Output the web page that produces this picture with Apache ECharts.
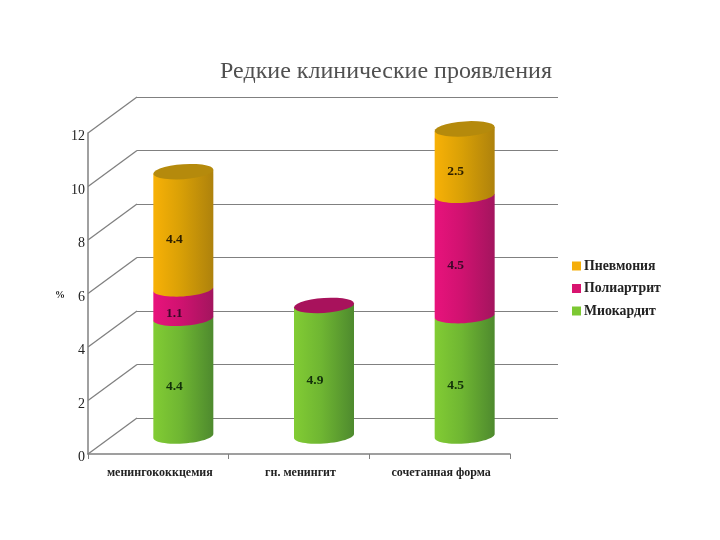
<!DOCTYPE html>
<html>
<head>
<meta charset="utf-8">
<style>html,body{margin:0;padding:0;background:#fff}#c{width:720px;height:540px}</style>
<script src="https://cdn.jsdelivr.net/npm/echarts@6/dist/echarts.min.js"></script>
</head>
<body>
<div id="c"></div>
<script>
const categories = ['менингококкцемия', 'гн. менингит', 'сочетанная форма'];
const myocarditis = [4.4, 4.9, 4.5];
const polyarthritis = [1.1, 0, 4.5];
const pneumonia = [4.4, null, 2.5];
const yTicks = [0, 2, 4, 6, 8, 10, 12];
const names = ['Миокардит', 'Полиартрит', 'Пневмония'];
const colors = [
  { legend: '#7CC832', light: '#82CC34', mid: '#6FB632', dark: '#4E8A2E', cap: '#5D9A2E', text: '#12300a' },
  { legend: '#D8146F', light: '#E8137C', mid: '#D01270', dark: '#A3155E', cap: '#A8125C', text: '#3a0a28' },
  { legend: '#F5AE0A', light: '#F8B106', mid: '#D9A006', dark: '#AE820C', cap: '#B58A0C', text: '#2e2000' }
];
const layers = [myocarditis, polyarthritis, pneumonia];
const DX = 49, DY = -36, RX = 30, RY = 7.5, TILT = 2;
const serif = '"Liberation Serif", serif';

function segData(s) {
  return categories.map((c, i) => {
    let base = 0;
    for (let k = 0; k < s; k++) base += layers[k][i] || 0;
    const v = layers[s][i];
    let isTop = v !== null;
    for (let k = s + 1; k < layers.length; k++) if (layers[k][i] !== null) isTop = false;
    return v === null ? [i, 0, 0, 0, 0] : [i, base, base + v, v, isTop ? 1 : 0];
  });
}
function ellipsePts(cx, cy, from, to) {
  const p = [], n = 28;
  for (let j = 0; j <= n; j++) {
    const t = from + (to - from) * j / n;
    p.push([cx + RX * Math.cos(t), cy + RY * Math.sin(t) - TILT * Math.cos(t)]);
  }
  return p;
}
function cylinderSeries(s) {
  const col = colors[s];
  return {
    type: 'custom', name: names[s], xAxisIndex: 0, yAxisIndex: 0, z: 5 + s,
    itemStyle: { color: col.legend },
    encode: { x: 0, y: 2 },
    data: segData(s),
    renderItem(params, api) {
      const v = api.value(3), isTop = api.value(4);
      if (!v && !isTop) return { type: 'group', children: [] };
      const a = api.coord([api.value(0), api.value(1)]);
      const b = api.coord([api.value(0), api.value(2)]);
      const cx = a[0] + DX / 2 + 0.5, y0 = a[1] + DY / 2, y1 = b[1] + DY / 2 + 0.5;
      const children = [];
      if (v) {
        const poly = ellipsePts(cx, y0, 0, Math.PI).concat([[cx - RX, y1 + TILT], [cx + RX, y1 - TILT]]);
        children.push({
          type: 'polygon', shape: { points: poly },
          style: {
            fill: new echarts.graphic.LinearGradient(0, 0, 1, 0, [
              { offset: 0, color: col.light }, { offset: 0.45, color: col.mid }, { offset: 1, color: col.dark }
            ])
          }
        });
      }
      if (isTop) {
        children.push({
          type: 'polygon', shape: { points: ellipsePts(cx, y1, 0, Math.PI * 2) },
          style: { fill: col.cap }
        });
      }
      if (v) {
        children.push({
          type: 'text', z2: 10,
          style: {
            text: v.toFixed(1), x: cx - 9, y: (y0 + y1) / 2 + 9.5,
            align: 'center', verticalAlign: 'middle',
            font: 'bold 13.5px ' + serif, fill: col.text
          }
        });
      }
      return { type: 'group', children };
    }
  };
}

const chart = echarts.init(document.getElementById('c'), null, { renderer: 'canvas' });
chart.setOption({
  animation: false,
  backgroundColor: '#fff',
  title: {
    text: 'Редкие клинические проявления', left: 381, top: 55, textAlign: 'center',
    textStyle: { fontFamily: serif, fontSize: 24, fontWeight: 'normal', color: '#505050' }
  },
  legend: {
    data: ['Пневмония', 'Полиартрит', 'Миокардит'],
    orient: 'vertical', left: 567, top: 254, itemWidth: 9, itemHeight: 9, itemGap: 8.5,
    icon: 'rect',
    textStyle: { fontFamily: serif, fontSize: 13.8, fontWeight: 'bold', color: '#222', padding: [0, 0, 0, -2] }
  },
  grid: [
    { left: 88, top: 133, width: 422, height: 321 },
    { left: 137, top: 97, width: 421, height: 321 }
  ],
  xAxis: [
    {
      type: 'category', gridIndex: 0, data: categories,
      axisLine: { lineStyle: { color: '#808080', width: 1.5 } },
      axisTick: { show: true, length: 5, alignWithLabel: false, lineStyle: { color: '#808080' } },
      axisLabel: { margin: 13, fontFamily: serif, fontSize: 12, fontWeight: 'bold', color: '#222', interval: 0, padding: [0, 0, 0, 3] }
    },
    { type: 'category', gridIndex: 1, data: categories, show: false }
  ],
  yAxis: [
    {
      type: 'value', gridIndex: 0, min: 0, max: 12, interval: 2,
      name: '%', nameLocation: 'middle', nameRotate: 0, nameGap: 21,
      nameTextStyle: { fontFamily: serif, fontSize: 10, fontWeight: 'bold', color: '#222', verticalAlign: 'top', padding: [-3, 0, 0, 0] },
      axisLine: { show: true, lineStyle: { color: '#808080', width: 1.5 } },
      axisTick: { show: false }, splitLine: { show: false },
      axisLabel: { margin: 3, fontFamily: serif, fontSize: 14, color: '#222', verticalAlign: 'top', padding: [-3.5, 0, 0, 0] }
    },
    {
      type: 'value', gridIndex: 1, min: 0, max: 12, interval: 2,
      axisLine: { show: false }, axisTick: { show: false }, axisLabel: { show: false },
      splitLine: { show: true, lineStyle: { color: '#808080', width: 1.2 } }
    }
  ],
  series: [
    {
      type: 'custom', name: 'walls', xAxisIndex: 0, yAxisIndex: 0, z: 1,
      encode: { y: 0 }, data: yTicks.map(v => [v]),
      renderItem(params, api) {
        const y = api.coord([0, api.value(0)])[1];
        const x = params.coordSys.x;
        return {
          type: 'line', shape: { x1: x, y1: y, x2: x + DX, y2: y + DY },
          style: { stroke: '#808080', lineWidth: 1.3 }
        };
      }
    },
    cylinderSeries(0), cylinderSeries(1), cylinderSeries(2)
  ]
});
</script>
</body>
</html>
